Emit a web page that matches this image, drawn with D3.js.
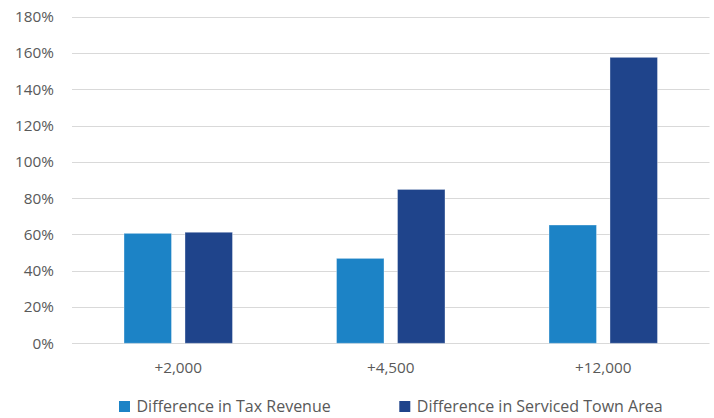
<!DOCTYPE html>
<html><head><meta charset="utf-8">
<script src="https://cdn.jsdelivr.net/npm/d3@7"></script>
<style>body{margin:0;background:#fff}svg{display:block}text{font-family:"Open Sans",sans-serif;fill:#595959}</style>
</head><body><svg id="c" width="714" height="418"></svg>
<script>
const categories = ["+2,000", "+4,500", "+12,000"];
const seriesNames = ["Difference in Tax Revenue", "Difference in Serviced Town Area"];
const taxRevenue = [60.6, 46.8, 65.2];
const townArea = [61.2, 84.8, 157.6];
const yTicks = [0, 20, 40, 60, 80, 100, 120, 140, 160, 180];
const colors = ["#1C83C6", "#1F448B"];

const svg = d3.select("#c");
const mL = 72, mR = 709.5, mT = 16.7, mB = 343.3;
const x = d3.scaleBand().domain(categories).range([mL, mR]);
const y = d3.scaleLinear().domain([0, 180]).range([mB, mT]);
const bw = x.bandwidth();
const barW = bw * 0.2235, gap = bw * 0.0635;
const off0 = (bw - (2 * barW + gap)) / 2;
const inner = k => off0 + k * (barW + gap);
const FONT = '"Open Sans",sans-serif';

// grid
svg.append("g").selectAll("line").data(yTicks).join("line")
  .attr("x1", mL).attr("x2", mR)
  .attr("y1", d => Math.round(y(d)) + 0.5).attr("y2", d => Math.round(y(d)) + 0.5)
  .attr("stroke", "#d9d9d9").attr("stroke-width", 1);

// y axis labels
const yAxis = d3.axisLeft(y).tickValues(yTicks).tickFormat(d => d + "%").tickSize(0).tickPadding(0);
const ya = svg.append("g").attr("transform", `translate(${54},0)`).call(yAxis);
ya.select(".domain").remove();
ya.selectAll("text").attr("font-size", 15.3).attr("fill", "#595959").style("font-family", FONT);

// bars
const data = categories.map((c, i) => ({c, vals: [taxRevenue[i], townArea[i]]}));
const g = svg.append("g");
data.forEach(d => {
  d.vals.forEach((v, k) => {
    g.append("rect")
      .attr("x", x(d.c) + inner(k))
      .attr("y", y(v))
      .attr("width", barW)
      .attr("height", y(0) - y(v))
      .attr("fill", colors[k])
      .attr("stroke", "#ffffff").attr("stroke-opacity", 0.35).attr("stroke-width", 1);
  });
});

// x axis labels
const xAxis = d3.axisBottom(x).tickSize(0).tickPadding(0);
const xa = svg.append("g").attr("transform", `translate(0,${mB + 24})`).call(xAxis);
xa.select(".domain").remove();
xa.selectAll("text").attr("font-size", 15.3).attr("fill", "#595959").style("font-family", FONT).attr("dy", "0.35em");

// legend
const legX = [119, 399.3];
const leg = svg.append("g");
seriesNames.forEach((n, k) => {
  leg.append("rect").attr("x", legX[k]).attr("y", 401).attr("width", 11).attr("height", 11).attr("fill", colors[k]);
  leg.append("text").attr("x", legX[k] + 17.5).attr("y", 406.5).attr("dy", "0.35em")
    .attr("font-size", 16).style("font-family", FONT).text(n);
});
</script></body></html>
